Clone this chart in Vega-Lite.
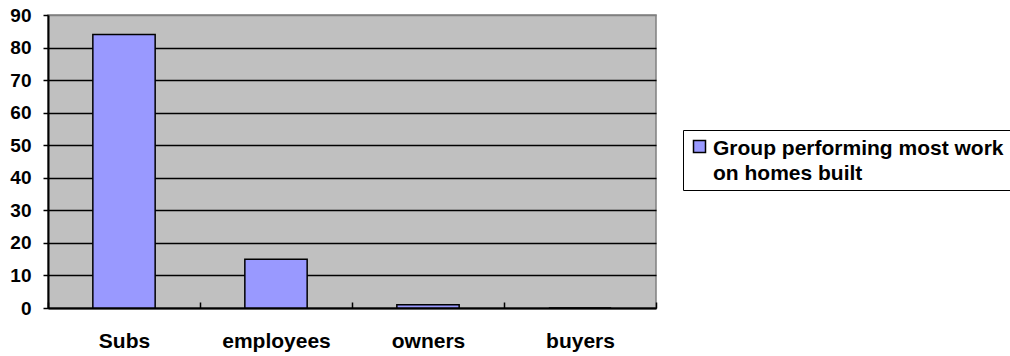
{
  "$schema": "https://vega.github.io/schema/vega-lite/v6.json",
  "width": 608,
  "height": 293,
  "autosize": {"type": "none"},
  "padding": {"left": 48, "top": 15, "right": 354, "bottom": 48},
  "background": "white",
  "config": {
    "view": {"fill": "#C0C0C0", "stroke": "#808080", "strokeWidth": 1.5},
    "font": "Liberation Sans"
  },
  "data": {
    "values": [
      {"group": "Subs", "value": 84, "series": "Group performing most work on homes built"},
      {"group": "employees", "value": 15, "series": "Group performing most work on homes built"},
      {"group": "owners", "value": 1, "series": "Group performing most work on homes built"},
      {"group": "buyers", "value": 0, "series": "Group performing most work on homes built"}
    ]
  },
  "mark": {"type": "bar", "stroke": "black", "strokeWidth": 1.5, "width": {"band": 0.41}},
  "encoding": {
    "x": {
      "field": "group",
      "type": "nominal",
      "sort": null,
      "scale": {"paddingInner": 0, "paddingOuter": 0},
      "axis": {
        "title": null,
        "labelAngle": 0,
        "labelFont": "Liberation Sans",
        "labelFontWeight": "bold",
        "labelFontSize": 21,
        "labelColor": "black",
        "labelPadding": 28,
        "tickBand": "extent",
        "tickSize": -6,
        "tickColor": "black",
        "tickWidth": 1.5,
        "domainColor": "black",
        "domainWidth": 2
      }
    },
    "y": {
      "field": "value",
      "type": "quantitative",
      "scale": {"domain": [0, 90], "nice": false},
      "axis": {
        "title": null,
        "values": [0, 10, 20, 30, 40, 50, 60, 70, 80, 90],
        "labelFont": "Liberation Sans",
        "labelFontWeight": "bold",
        "labelFontSize": 19,
        "labelColor": "black",
        "labelPadding": 12,
        "tickSize": 5,
        "tickColor": "black",
        "tickWidth": 1.5,
        "domainColor": "black",
        "domainWidth": 2,
        "grid": true,
        "gridColor": {"condition": {"test": "datum.value === 90", "value": "#808080"}, "value": "black"},
        "gridWidth": 1.5,
        "gridOpacity": 1
      }
    },
    "fill": {
      "field": "series",
      "type": "nominal",
      "scale": {"range": ["#9999FF"]},
      "legend": {
        "title": null,
        "orient": "none",
        "legendX": 635,
        "legendY": 115,
        "symbolType": "square",
        "symbolSize": 144,
        "symbolStrokeColor": "black",
        "symbolStrokeWidth": 1.5,
        "symbolOpacity": 1,
        "labelFont": "Liberation Sans",
        "labelFontWeight": "bold",
        "labelFontSize": 21,
        "labelColor": "black",
        "labelLimit": 500,
        "labelExpr": "['Group performing most work', 'on homes built']",
        "labelBaseline": "top",
        "labelOffset": 3,
        "strokeColor": "black",
        "fillColor": "white",
        "padding": 6,
        "encode": {"labels": {"update": {"lineHeight": {"value": 25}, "dy": {"value": -9}}}}
      }
    }
  }
}
